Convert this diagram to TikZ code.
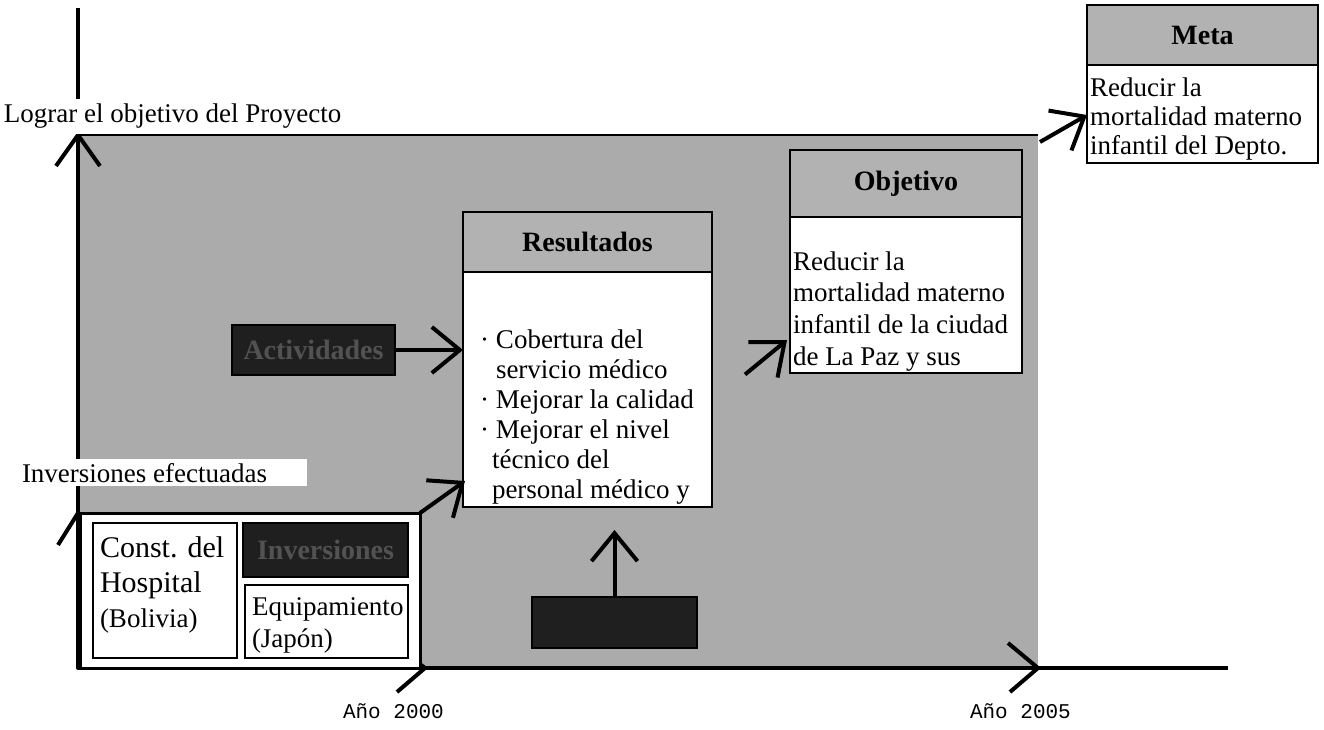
\documentclass[tikz,border=0pt]{standalone}
\usepackage{fontspec}
\setmainfont{Liberation Serif}
\newfontfamily\monof{Liberation Mono}
\usetikzlibrary{arrows.meta,calc}
\begin{document}
\begin{tikzpicture}[x=1pt,y=-1pt,
  every node/.style={inner sep=0pt, outer sep=0pt},
  box/.style={draw=black, line width=2.5pt, fill=white, anchor=north west},
  hdr/.style={draw=black, line width=2.5pt, fill=black!30, anchor=north west, font=\fontsize{28}{30}\selectfont\bfseries},
  darkbox/.style={draw=black, line width=2pt, fill=black!88, anchor=north west, text=black!68, font=\fontsize{28}{30}\selectfont\bfseries},
  txt/.style={anchor=base west, font=\fontsize{27}{30}\selectfont},
  arr/.style={line width=4pt, line join=round, -{Straight Barb[length=28pt,width=46pt]}},
  axis/.style={line width=4pt, line join=round},
  lbl/.style={anchor=base west, fill=white, font=\fontsize{27}{30}\selectfont},
  yr/.style={anchor=base west, font=\monof\fontsize{21}{23}\selectfont},
]
\useasboundingbox (0,0) rectangle (1324,730);

% shaded project area
\node[fill=black!33, anchor=north west, minimum width=960pt, minimum height=533pt] (plan) at (78,135) {};
\draw[line width=1.5pt] (plan.north west) -- (plan.north east);

% axes
\draw[axis] (78,8) -- (78,668) -- (1228,668);
\draw[axis] (56,166) -- (78,135) -- (100,166);
\draw[axis] (58,545) -- (78,513) -- (102,545);
\draw[axis] (395,645) -- (425,668) -- (397,692);
\draw[axis] (1008,643) -- (1038,668) -- (1010,692);

% axis labels
\node[lbl, inner ysep=5pt] (goal) at (4,123) {Lograr el objetivo del Proyecto};
\node[lbl, inner ysep=4pt] (invlbl) at (0,482) {\hspace*{22pt}Inversiones efectuadas\hspace*{40pt}};
\node[yr] (y2000) at (343,718) {Año 2000};
\node[yr] (y2005) at (970,718) {Año 2005};

% investments
\node[box, line width=3pt, minimum width=340pt, minimum height=155pt] (invbox) at (80,513) {};
\node[box, line width=2pt, minimum width=144pt, minimum height=135pt] (const) at (93,523) {};
\node[anchor=base west, font=\fontsize{30}{35}\selectfont] (constt) at (100,557)
  {\parbox[t]{135pt}{Const. del\\Hospital\\{\fontsize{27}{33}\selectfont(Bolivia)}}};
\node[darkbox, minimum width=165pt, minimum height=54pt] (invd) at (243,523) {Inversiones};
\node[box, line width=2pt, minimum width=163pt, minimum height=73pt] (equip) at (245,585) {};
\node[anchor=base west, font=\fontsize{27}{32}\selectfont] (equipt) at (252,615)
  {\parbox[t]{160pt}{Equipamiento\\(Japón)}};

% activities and bottom box
\node[darkbox, minimum width=163pt, minimum height=50pt] (act) at (232,325) {Actividades};
\node[darkbox, minimum width=165pt, minimum height=51pt] (insum) at (532,597) {};

% results
\node[box, minimum width=249pt, minimum height=295pt] (res) at (463,212) {};
\node[hdr, minimum width=249pt, minimum height=60pt] (resh) at (463,212) {Resultados};
\node[txt] (rest) at (480,348) {\parbox[t]{232pt}{%
  \makebox[16pt][l]{·}Cobertura del\\
  \hspace*{16pt}servicio médico\\
  \makebox[16pt][l]{·}Mejorar la calidad\\
  \makebox[16pt][l]{·}Mejorar el nivel\\
  \hspace*{12pt}técnico del\\
  \hspace*{12pt}personal médico y}};

% objective
\node[box, minimum width=232pt, minimum height=223pt] (obj) at (790,150) {};
\node[hdr, minimum width=232pt, minimum height=67pt] (objh) at (790,150) {Objetivo};
\node[anchor=base west, font=\fontsize{27}{31.7}\selectfont] (objt) at (793,270)
  {\parbox[t]{228pt}{Reducir la\\mortalidad materno\\infantil de la ciudad\\de La Paz y sus}};

% goal
\node[box, minimum width=231pt, minimum height=158pt] (meta) at (1087,5) {};
\node[hdr, minimum width=231pt, minimum height=60pt] (metah) at (1087,5) {Meta};
\node[anchor=base west, font=\fontsize{27}{29}\selectfont] (metat) at (1090,97)
  {\parbox[t]{228pt}{Reducir la\\mortalidad materno\\infantil del Depto.}};

% connectors
\draw[arr] (act.east) -- (res.west |- act.east);
\draw[arr] (invbox.north east) -- ($(res.south west)+(2,-26)$);
\draw[arr, shorten >=23pt] (insum.north) -- (insum.north |- res.south);
\draw[arr] ($(res.east)+(33,15)$) -- ($(obj.south west)+(-3,-33)$);
\draw[arr] ($(plan.north east)+(2,7)$) -- ($(meta.south west)+(0,-48)$);
\end{tikzpicture}
\end{document}
